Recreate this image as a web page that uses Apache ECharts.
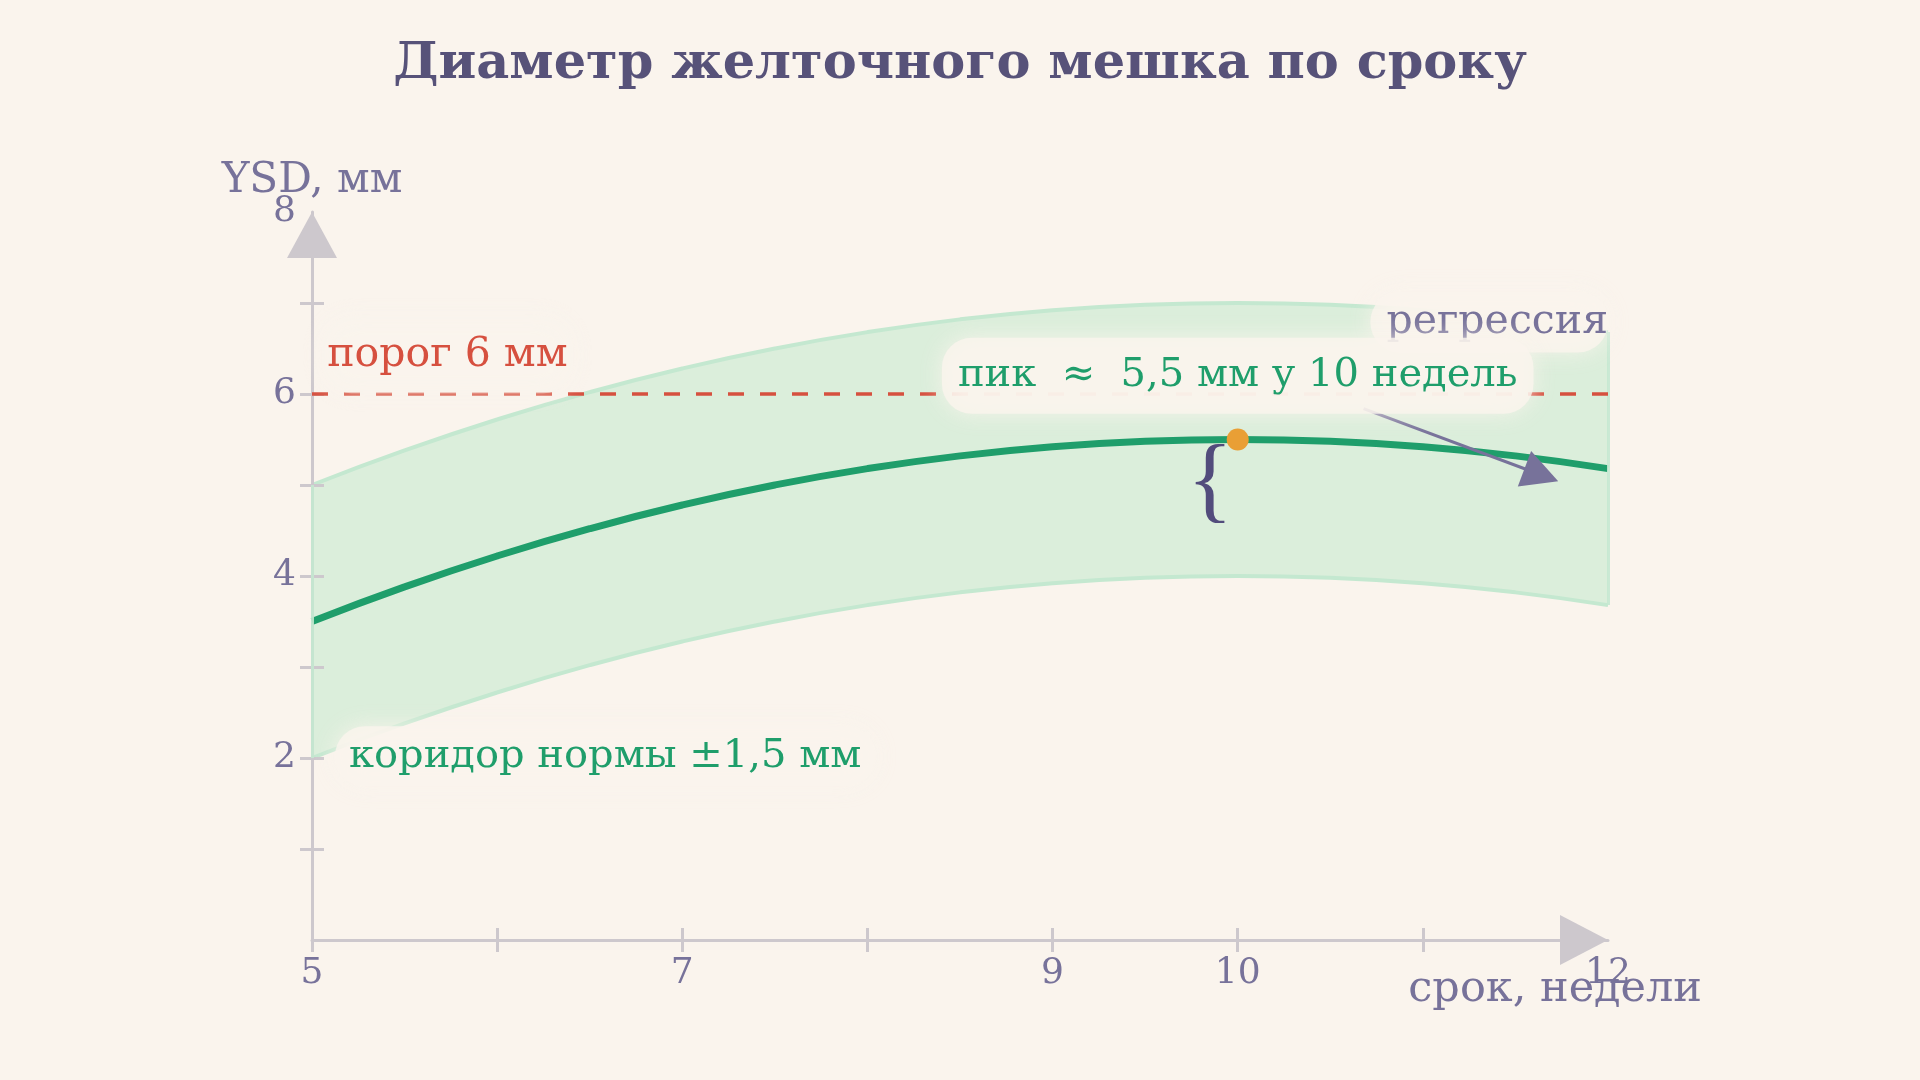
<!DOCTYPE html>
<html>
<head>
<meta charset="utf-8">
<script src="https://cdn.jsdelivr.net/npm/echarts@6/dist/echarts.min.js"></script>
<style>
  html, body { margin: 0; padding: 0; background: #faf4ed; }
  #chart { width: 1920px; height: 1080px; }
</style>
</head>
<body>
<div id="chart"></div>
<script>
// Yolk sac diameter by gestational week, regression curve with a ±1.5 mm corridor.

const weeks = [5, 5.5, 6, 6.5, 7, 7.5, 8, 8.5, 9, 9.5, 10, 10.5, 11, 11.5, 12];
const ysdMean = [3.5, 3.88, 4.22, 4.52, 4.78, 5.0, 5.18, 5.32, 5.42, 5.48, 5.5, 5.48, 5.42, 5.32, 5.18];
const bandLower = [2.0, 2.38, 2.72, 3.02, 3.28, 3.5, 3.68, 3.82, 3.92, 3.98, 4.0, 3.98, 3.92, 3.82, 3.68];
const bandUpper = [5.0, 5.38, 5.72, 6.02, 6.28, 6.5, 6.68, 6.82, 6.92, 6.98, 7.0, 6.98, 6.92, 6.82, 6.68];
const peak = [10, 5.5];
const threshold = 6;
const xTickWeeks = [5, 6, 7, 8, 9, 10, 11];
const xLabelWeeks = [5, 7, 9, 10, 12];
const yTickValues = [1, 2, 3, 4, 5, 6, 7];
const yLabelValues = [2, 4, 6, 8];

const FONT = "'DejaVu Serif', serif";
const BG = "#faf4ed";
const AXIS = "#cdc8cd";
const INK = "#77729a";
const GREEN = "#1f9e6b";
const BAND = "#dbeedb";
const BAND_EDGE = "#c4e8d0";

const halo = {
  backgroundColor: "rgba(250,244,237,0.82)",
  shadowBlur: 22,
  shadowColor: "rgba(250,244,237,1)",
  borderRadius: 30
};

const chart = echarts.init(document.getElementById("chart"), null, { renderer: "canvas" });

const tickStyle = { lineStyle: { color: AXIS, width: 3 }, length: 12 };
const lastWeek = weeks[weeks.length - 1];

chart.setOption({
  backgroundColor: BG,
  animation: false,
  textStyle: { fontFamily: FONT },
  title: {
    text: "Диаметр желточного мешка по сроку",
    left: "center",
    top: 34,
    textStyle: { fontFamily: FONT, fontSize: 51, fontWeight: "bold", color: "#575279" }
  },
  grid: { left: 312, right: 312, top: 212, bottom: 140, outerBoundsMode: "none" },
  xAxis: [
    {
      type: "value", min: 5, max: 12, z: 2,
      name: "срок, недели",
      nameLocation: "end",
      nameGap: 94,
      nameMoveOverlap: false,
      nameTextStyle: { fontFamily: FONT, fontSize: 43, color: INK, align: "right", verticalAlign: "top", padding: [28, 0, 0, 0] },
      axisLine: { lineStyle: { color: AXIS, width: 3 }, symbol: ["none", "triangle"], symbolSize: [50, 48], symbolOffset: [0, -24] },
      axisTick: Object.assign({ customValues: xTickWeeks }, tickStyle),
      axisLabel: {
        customValues: xLabelWeeks,
        fontFamily: FONT, fontSize: 36, margin: 16,
        color: v => (v === 12 ? "rgba(119,114,154,0.3)" : INK)
      },
      splitLine: { show: false }
    },
    {
      type: "value", min: 5, max: 12, position: "bottom", z: 2,
      axisLine: { show: false },
      axisTick: Object.assign({ customValues: xTickWeeks, inside: true }, tickStyle),
      axisLabel: { show: false },
      splitLine: { show: false }
    }
  ],
  yAxis: [
    {
      type: "value", min: 0, max: 8, z: 2,
      name: "YSD, мм",
      nameLocation: "end",
      nameGap: 10,
      nameMoveOverlap: false,
      nameTextStyle: { fontFamily: FONT, fontSize: 42, color: INK },
      axisLine: { lineStyle: { color: AXIS, width: 3 }, symbol: ["none", "triangle"], symbolSize: [50, 46], symbolOffset: [0, -23] },
      axisTick: Object.assign({ customValues: yTickValues }, tickStyle),
      axisLabel: {
        customValues: yLabelValues,
        fontFamily: FONT, fontSize: 36, margin: 16, padding: [7, 0, 0, 0],
        color: v => (v === 8 ? "rgba(119,114,154,0.45)" : INK)
      },
      splitLine: { show: false }
    },
    {
      type: "value", min: 0, max: 8, position: "left", z: 2,
      axisLine: { show: false },
      axisTick: Object.assign({ customValues: yTickValues, inside: true }, tickStyle),
      axisLabel: { show: false },
      splitLine: { show: false }
    }
  ],
  series: [
    {
      // corridor: fill under the upper bound ...
      name: "band-upper",
      type: "line",
      smooth: true,
      showSymbol: false,
      data: weeks.map((w, i) => [w, bandUpper[i]]),
      lineStyle: { color: BAND_EDGE, width: 4 },
      areaStyle: { color: BAND, opacity: 1, origin: "start" },
      z: 1
    },
    {
      // ... then paint the background back in under the lower bound
      name: "band-lower",
      type: "line",
      smooth: true,
      showSymbol: false,
      data: weeks.map((w, i) => [w, bandLower[i]]),
      lineStyle: { color: BAND_EDGE, width: 4 },
      areaStyle: { color: BG, opacity: 1, origin: "start" },
      z: 1
    },
    {
      name: "band-edges",
      type: "line",
      data: [],
      z: 3,
      markLine: {
        silent: true,
        symbol: ["none", "none"],
        label: { show: false },
        lineStyle: { color: BAND_EDGE, width: 3, type: "solid", opacity: 0.9 },
        data: [
          [{ coord: [lastWeek, bandLower[bandLower.length - 1]] }, { coord: [lastWeek, bandUpper[bandUpper.length - 1]] }],
          [{ coord: [weeks[0], bandLower[0]] }, { coord: [weeks[0], bandUpper[0]] }]
        ]
      }
    },
    {
      name: "threshold",
      type: "line",
      data: [],
      markLine: {
        silent: true,
        symbol: ["none", "none"],
        label: { show: false },
        lineStyle: { color: "#d6503f", width: 3.5, type: [16, 16] },
        data: [{ yAxis: threshold }]
      },
      z: 3
    },
    {
      name: "regression",
      type: "line",
      smooth: true,
      showSymbol: false,
      data: weeks.map((w, i) => [w, ysdMean[i]]),
      lineStyle: { color: GREEN, width: 7 },
      z: 4
    },
    {
      name: "peak",
      type: "scatter",
      data: [peak],
      symbolSize: 22,
      itemStyle: { color: "#e99f35", opacity: 1 },
      z: 7
    },
    {
      name: "annotations",
      type: "scatter",
      data: [],
      z: 6,
      markLine: {
        silent: true,
        symbol: ["none", "triangle"],
        symbolSize: [38, 36],
        label: { show: false },
        lineStyle: { color: INK, width: 3, type: "solid" },
        data: [[{ coord: [10.68, 5.84] }, { coord: [11.64, 5.11] }]]
      },
      markPoint: {
        silent: true,
        symbol: "circle",
        symbolSize: 0,
        data: [
          {
            coord: [5.05, 6.43],
            label: Object.assign({ show: true, position: "right", distance: 0, formatter: "порог 6 мм",
              fontFamily: FONT, fontSize: 41, color: "#d6503f", padding: [6, 6, 30, 6] }, halo,
              { backgroundColor: "rgba(250,244,237,0.55)" })
          },
          {
            coord: [5.124, 2.02],
            label: Object.assign({ show: true, position: "right", distance: 0, formatter: "коридор нормы ±1,5 мм",
              fontFamily: FONT, fontSize: 40, color: GREEN, padding: [10, 14, 10, 14] }, halo)
          },
          {
            coord: [12, 6.79],
            label: Object.assign({ show: true, position: "left", distance: 0, formatter: "регрессия",
              fontFamily: FONT, fontSize: 41, color: INK, padding: [10, 0, 10, 16] }, halo)
          },
          {
            coord: [10, 6.2],
            label: Object.assign({ show: true, position: "inside", formatter: "пик  ≈  5,5 мм у 10 недель",
              fontFamily: FONT, fontSize: 40, color: GREEN, padding: [18, 16, 18, 16] }, halo)
          },
          {
            coord: [9.85, 5.0],
            label: { show: true, position: "inside", formatter: "{", fontFamily: "'Liberation Serif', serif", fontSize: 96, color: "#524c7c" }
          }
        ]
      }
    }
  ]
});
</script>
</body>
</html>
